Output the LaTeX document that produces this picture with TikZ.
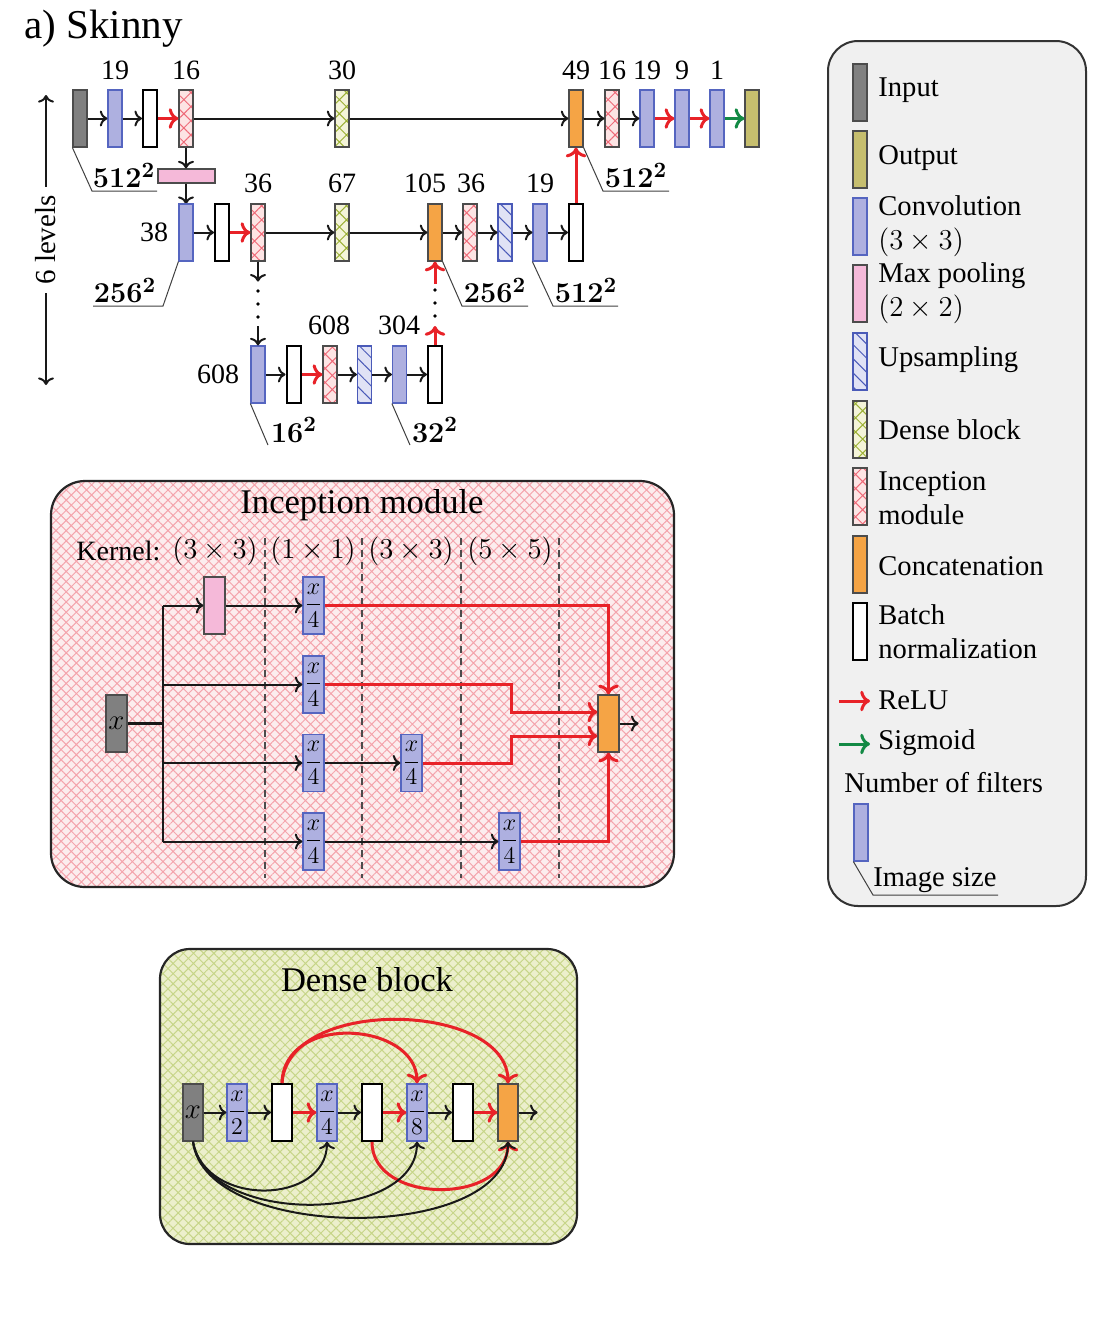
\documentclass[tikz,border=0pt]{standalone}
\usepackage{amsmath}
\usepackage[no-math]{fontspec}
\setmainfont{Liberation Serif}
\usetikzlibrary{patterns.meta,arrows.meta}
\definecolor{cgray}{HTML}{808080}
\definecolor{colive}{HTML}{C6BE6E}
\definecolor{cconv}{HTML}{AEB0E0}
\definecolor{cconvd}{HTML}{5565C0}
\definecolor{cpool}{HTML}{F5B9D9}
\definecolor{corange}{HTML}{F5A445}
\definecolor{cred}{HTML}{E82228}
\definecolor{cgreen}{HTML}{138A45}
\definecolor{cincf}{HTML}{FDE4E4}
\definecolor{cincl}{HTML}{EE6A78}
\definecolor{cdensef}{HTML}{F4F4D8}
\definecolor{cdensel}{HTML}{9CB035}
\definecolor{cupf}{HTML}{E0E2F5}
\definecolor{cupl}{HTML}{4A5AB8}
\definecolor{clegbg}{HTML}{F0F0F0}
\definecolor{cincbg}{HTML}{FCEDEE}
\definecolor{cincbgl}{HTML}{F4A4AC}
\definecolor{cdbg}{HTML}{ECEFCC}
\definecolor{cdbgl}{HTML}{C6D588}
\tikzset{
 blk/.style={minimum width=7pt, minimum height=28.5pt, inner sep=0pt, line width=0.6pt},
 inpb/.style={blk, draw=black!70, fill=cgray},
 outb/.style={blk, draw=black!70, fill=colive},
 convb/.style={blk, draw=cconvd, fill=cconv},
 bnb/.style={blk, draw=black, fill=white, line width=1pt},
 incb/.style={blk, draw=black!70, preaction={fill=cincf}, pattern={Hatch[angle=45,distance=5pt,line width=0.5pt]}, pattern color=cincl},
 denseb/.style={blk, draw=black!70, preaction={fill=cdensef}, pattern={Hatch[angle=45,distance=5pt,line width=0.5pt]}, pattern color=cdensel},
 upb/.style={blk, draw=cupl, preaction={fill=cupf}, pattern={Lines[angle=-45,distance=5pt,line width=0.5pt]}, pattern color=cupl},
 catb/.style={blk, draw=black!70, fill=corange},
 poolb/.style={blk, draw=black!70, fill=cpool},
 wide/.style={minimum width=10.5pt, font=\fontsize{11.5}{12}\selectfont},
 ar/.style={->, line width=1pt, black!90},
 rar/.style={->, line width=1.5pt, cred},
 gar/.style={->, line width=1.5pt, cgreen},
 num/.style={font=\fontsize{14}{16}\selectfont, inner sep=0pt},
 sz/.style={font=\fontsize{15}{17}\selectfont, inner sep=0pt, anchor=south},
 szl/.style={line width=0.5pt, black!75},
 leg/.style={font=\fontsize{14.3}{17}\selectfont, anchor=west, align=left, inner sep=0pt},
 dotc/.style={fill=black, circle, inner sep=0pt, minimum size=1.8pt},
 kern/.style={font=\fontsize{14}{16}\selectfont, inner sep=0pt},
}
\begin{document}
\begin{tikzpicture}[x=0.5pt,y=-0.5pt]
\useasboundingbox (0,0) rectangle (1102,1330);
% title
\node[anchor=west, inner sep=0pt, font=\fontsize{20.5}{22}\selectfont] (title) at (24,29) {a) Skinny};
% levels
\node[rotate=90, font=\fontsize{14.5}{16}\selectfont, inner sep=4pt] (lev) at (46,240) {6 levels};
\coordinate (levt) at (46,95);
\coordinate (levb) at (46,385);
\draw[ar] (lev.east) -- (levt);
\draw[ar] (lev.west) -- (levb);

% ---------- row 1
\node[inpb] (in1) at (80,118.5) {};
\node[convb] (c1) at (115,118.5) {};
\node[bnb] (b1) at (150,118.5) {};
\node[incb] (i1) at (186,118.5) {};
\node[denseb] (d1) at (342,118.5) {};
\node[catb] (k1) at (576,118.5) {};
\node[incb] (i1b) at (612,118.5) {};
\node[convb] (c1b) at (647,118.5) {};
\node[convb] (c1c) at (682,118.5) {};
\node[convb] (c1d) at (717,118.5) {};
\node[outb] (o1) at (752,118.5) {};
\node[num] (n1) at (115,70) {19};
\node[num] (n2) at (186,70) {16};
\node[num] (n3) at (342,70) {30};
\node[num] (n4) at (576,70) {49};
\node[num] (n5) at (612,70) {16};
\node[num] (n6) at (647,70) {19};
\node[num] (n7) at (682,70) {9};
\node[num] (n8) at (717,70) {1};
\draw[ar] (in1) -- (c1);
\draw[ar] (c1) -- (b1);
\draw[rar] (b1) -- (i1);
\draw[ar] (i1) -- (d1);
\draw[ar] (d1) -- (k1);
\draw[ar] (k1) -- (i1b);
\draw[ar] (i1b) -- (c1b);
\draw[rar] (c1b) -- (c1c);
\draw[rar] (c1c) -- (c1d);
\draw[gar] (c1d) -- (o1);
% size labels row 1
\draw[szl] (in1.south west) -- (92,191) -- (157,191);
\node[sz] (s1) at (124,188) {$\mathbf{512^2}$};
\draw[szl] (k1.south east) -- (603,191) -- (669,191);
\node[sz] (s2) at (636,188) {$\mathbf{512^2}$};

% pooling
\node[poolb, minimum width=28.5pt, minimum height=7pt] (p1) at (186.5,176) {};
\draw[ar] (i1.south) -- (i1.south |- p1.north);
\draw[ar] (i1.south |- p1.south) -- (i1.south |- 0,204);

% ---------- row 2
\node[convb] (c2) at (186,232.5) {};
\node[bnb] (b2) at (222,232.5) {};
\node[incb] (i2) at (258,232.5) {};
\node[denseb] (d2) at (342,232.5) {};
\node[catb] (k2) at (435,232.5) {};
\node[incb] (i2b) at (470,232.5) {};
\node[upb] (u2) at (505,232.5) {};
\node[convb] (c2b) at (540,232.5) {};
\node[bnb] (b2b) at (576,232.5) {};
\node[num] (m1) at (154,232) {38};
\node[num] (m2) at (258,183) {36};
\node[num] (m3) at (342,183) {67};
\node[num] (m4) at (425,183) {105};
\node[num] (m5) at (471,183) {36};
\node[num] (m6) at (540,183) {19};
\draw[ar] (c2) -- (b2);
\draw[rar] (b2) -- (i2);
\draw[ar] (i2) -- (d2);
\draw[ar] (d2) -- (k2);
\draw[ar] (k2) -- (i2b);
\draw[ar] (i2b) -- (u2);
\draw[ar] (u2) -- (c2b);
\draw[ar] (c2b) -- (b2b);
\draw[rar] (b2b.north) -- (k1.south);
\draw[szl] (c2.south west) -- (163,306) -- (93,306);
\node[sz] (s3) at (125,303) {$\mathbf{256^2}$};
\draw[szl] (k2.south east) -- (462,306) -- (528,306);
\node[sz] (s4) at (495,303) {$\mathbf{256^2}$};
\draw[szl] (c2b.south west) -- (553,306) -- (618,306);
\node[sz] (s5) at (586,303) {$\mathbf{512^2}$};

% ---------- row 3
\node[convb] (c3) at (258,374.5) {};
\node[bnb] (b3) at (293.5,374.5) {};
\node[incb] (i3) at (330,374.5) {};
\node[upb] (u3) at (364.5,374.5) {};
\node[convb] (c3b) at (399.5,374.5) {};
\node[bnb] (b3b) at (435,374.5) {};
\node[num] (r1) at (218,374) {608};
\node[num] (r2) at (329,325) {608};
\node[num] (r3) at (399,325) {304};
\draw[ar] (c3) -- (b3);
\draw[rar] (b3) -- (i3);
\draw[ar] (i3) -- (u3);
\draw[ar] (u3) -- (c3b);
\draw[ar] (c3b) -- (b3b);
\draw[szl] (c3.south west) -- (268,445);
\node[sz, anchor=center] (s6) at (294,430) {$\mathbf{16^2}$};
\draw[szl] (c3b.south west) -- (410,445);
\node[sz, anchor=center] (s7) at (435,430) {$\mathbf{32^2}$};
% links between rows 2 and 3
\draw[ar] (i2.south) -- ++(0,20);
\node[dotc] (dl1) at (258,291) {};
\node[dotc] (dl2) at (258,304) {};
\node[dotc] (dl3) at (258,317) {};
\coordinate (dls) at (258,326);
\draw[ar] (dls) -- (c3.north);
\draw[rar] (b3b.north) -- ++(0,-19);
\node[dotc] (dr1) at (435,290) {};
\node[dotc] (dr2) at (435,303) {};
\node[dotc] (dr3) at (435,316) {};
\coordinate (drs) at (435,284);
\draw[rar] (drs) -- (k2.south);

% ---------- legend
\draw[rounded corners=15pt, fill=clegbg, draw=black!80, line width=1pt] (828,41) rectangle (1086,906);
\node[inpb] (l1) at (860,92.5) {};
\node[outb] (l2) at (860,159.5) {};
\node[convb] (l3) at (860,226.5) {};
\node[poolb] (l4) at (860,293.5) {};
\node[upb] (l5) at (860,361.5) {};
\node[denseb] (l6) at (860,429.5) {};
\node[incb] (l7) at (860,496.5) {};
\node[catb] (l8) at (860,564.5) {};
\node[bnb] (l9) at (860,631.5) {};
\node[leg] (t1) at (878,90) {Input};
\node[leg] (t2) at (878,158) {Output};
\node[leg] (t3) at (878,226) {Convolution\\$(3\times 3)$};
\node[leg] (t4) at (878,293) {Max pooling\\$(2\times 2)$};
\node[leg] (t5) at (878,360) {Upsampling};
\node[leg] (t6) at (878,430) {Dense block};
\node[leg] (t7) at (878,498) {Inception\\module};
\node[leg] (t8) at (878,566) {Concatenation};
\node[leg] (t9) at (878,632) {Batch\\normalization};
\coordinate (ra) at (839,701);
\coordinate (rb) at (870,701);
\draw[rar] (ra) -- (rb);
\node[leg] (t10) at (878,700) {ReLU};
\coordinate (ga) at (839,744);
\coordinate (gb) at (870,744);
\draw[gar] (ga) -- (gb);
\node[leg] (t11) at (878,743) {Sigmoid};
\node[leg] (t12) at (844,783) {Number of filters};
\node[convb] (lc) at (861,832.5) {};
\draw[szl] (lc.south west) -- (873,895) -- (998,895);
\node[leg, anchor=south] (t13) at (935,893) {Image size};

% ---------- inception module
\draw[rounded corners=17pt, line width=1.1pt, draw=black!85, preaction={fill=cincbg}, pattern={Hatch[angle=45,distance=3.6pt,line width=0.5pt]}, pattern color=cincbgl] (51,481) rectangle (674,887);
\node[font=\fontsize{17.3}{19}\selectfont, inner sep=0pt] (it) at (362,505) {Inception module};
\node[kern, anchor=west] (kk) at (76,551) {Kernel:};
\node[kern] (k33) at (215,551) {$(3\times 3)$};
\node[kern] (k11) at (313,551) {$(1\times 1)$};
\node[kern] (k33b) at (411,551) {$(3\times 3)$};
\node[kern] (k55) at (510,551) {$(5\times 5)$};
\foreach \xx in {265,362,461,559} \draw[black!70, line width=0.55pt, dash pattern=on 3.5pt off 2.5pt] (\xx,538) -- (\xx,878);
\node[inpb, minimum width=10.5pt, font=\fontsize{14}{15}\selectfont] (xin) at (116.5,723.5) {$x$};
\node[poolb, minimum width=10.5pt] (ip) at (214.5,605.5) {};
\node[convb, wide] (ib1) at (313.5,605.5) {$\dfrac{x}{4}$};
\node[convb, wide] (ib2) at (313.5,684.5) {$\dfrac{x}{4}$};
\node[convb, wide] (ib3) at (313.5,763) {$\dfrac{x}{4}$};
\node[convb, wide] (ib3b) at (411.5,763) {$\dfrac{x}{4}$};
\node[convb, wide] (ib4) at (313.5,841.5) {$\dfrac{x}{4}$};
\node[convb, wide] (ib4b) at (509.5,841.5) {$\dfrac{x}{4}$};
\node[catb, minimum width=10.5pt] (icat) at (608.5,723.5) {};
\coordinate (tm) at (163,723.5);
\coordinate (t1c) at (163,605.5);
\coordinate (t2c) at (163,684.5);
\coordinate (t3c) at (163,763);
\coordinate (t4c) at (163,841.5);
\draw[line width=1.4pt, black!90] (xin.east) -- (tm);
\draw[line width=1pt, black!90] (t1c) -- (t4c);
\draw[ar] (t1c) -- (ip.west);
\draw[ar] (ip.east) -- (ib1.west);
\draw[ar] (t2c) -- (ib2.west);
\draw[ar] (t3c) -- (ib3.west);
\draw[ar] (ib3.east) -- (ib3b.west);
\draw[ar] (t4c) -- (ib4.west);
\draw[ar] (ib4.east) -- (ib4b.west);
\draw[rar] (ib1.east) -| (icat.north);
\draw[rar] (ib2.east) -| (511,712) -- ([yshift=5.75pt]icat.west);
\draw[rar] (ib3b.east) -| (511,736) -- ([yshift=-6.25pt]icat.west);
\draw[rar] (ib4b.east) -| (icat.south);
\draw[ar] (icat.east) -- ++(19,0);

% ---------- dense block
\draw[rounded corners=15pt, line width=1.1pt, draw=black!85, preaction={fill=cdbg}, pattern={Hatch[angle=45,distance=3.6pt,line width=0.5pt]}, pattern color=cdbgl] (160,949) rectangle (577,1244);
\node[font=\fontsize{17.3}{19}\selectfont, inner sep=0pt] (dt) at (367,980) {Dense block};
\node[inpb, minimum width=10pt, font=\fontsize{14}{15}\selectfont] (dx) at (193,1112.5) {$x$};
\node[convb, wide, minimum width=10pt] (dd2) at (237,1112.5) {$\dfrac{x}{2}$};
\node[bnb, minimum width=10pt] (db1) at (282,1112.5) {};
\node[convb, wide, minimum width=10pt] (dd4) at (327,1112.5) {$\dfrac{x}{4}$};
\node[bnb, minimum width=10pt] (db2) at (372,1112.5) {};
\node[convb, wide, minimum width=10pt] (dd8) at (417,1112.5) {$\dfrac{x}{8}$};
\node[bnb, minimum width=10pt] (db3) at (463,1112.5) {};
\node[catb, minimum width=10pt] (dc) at (508,1112.5) {};
\draw[ar] (dx) -- (dd2);
\draw[ar] (dd2) -- (db1);
\draw[rar] (db1) -- (dd4);
\draw[ar] (dd4) -- (db2);
\draw[rar] (db2) -- (dd8);
\draw[ar] (dd8) -- (db3);
\draw[rar] (db3) -- (dc);
\draw[ar] (dc.east) -- ++(19,0);
\draw[rar] (db1.north) .. controls (284,1012) and (417,1022) .. (dd8.north);
\draw[rar] (db1.north) .. controls (288,995) and (508,1002) .. (dc.north);
\draw[rar] (db2.south) .. controls (372,1205) and (508,1205) .. (dc.south);
\draw[ar] (dx.south) .. controls (205,1208) and (327,1205) .. (dd4.south);
\draw[ar] (dx.south) .. controls (205,1226) and (417,1225) .. (dd8.south);
\draw[ar] (dx.south) .. controls (205,1243) and (508,1243) .. (dc.south);
\end{tikzpicture}
\end{document}
